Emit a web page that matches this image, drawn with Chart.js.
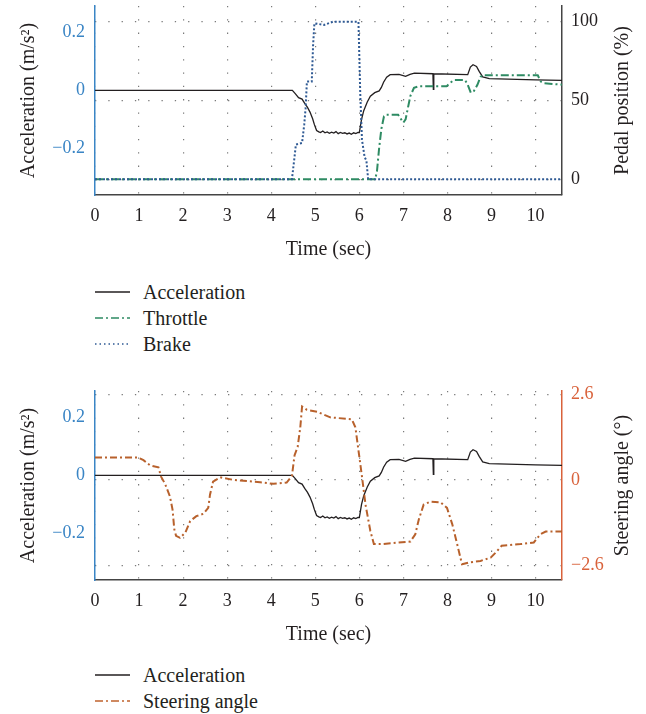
<!DOCTYPE html>
<html>
<head>
<meta charset="utf-8">
<script src="https://cdn.jsdelivr.net/npm/chart.js@4/dist/chart.umd.min.js"></script>
<style>
  body { margin: 0; background: #fff; width: 646px; height: 714px; position: relative; overflow: hidden;
         font-family: "Liberation Serif", serif; color: #231f20; }
  canvas { position: absolute; left: 0; }
  #top { top: 0; }
  #bottom { top: 385px; }
  .legend { position: absolute; left: 0; width: 646px; }
  .row { position: absolute; left: 0; height: 26px; width: 400px; }
  .row svg { position: absolute; left: 95px; top: 8px; }
  .row span { position: absolute; left: 143px; top: 0; font-size: 20px; line-height: 26px; }
</style>
</head>
<body>
<canvas id="top" width="646" height="262"></canvas>
<canvas id="bottom" width="646" height="262"></canvas>

<div class="legend" style="top:279px">
  <div class="row" style="top:0"><svg width="36" height="10"><line x1="0" y1="5" x2="35" y2="5" stroke="#231f20" stroke-width="1.3"/></svg><span>Acceleration</span></div>
  <div class="row" style="top:26px"><svg width="36" height="10"><line x1="0" y1="5" x2="35" y2="5" stroke="#2e8b63" stroke-width="1.3" stroke-dasharray="8 3 2 3"/></svg><span>Throttle</span></div>
  <div class="row" style="top:52px"><svg width="36" height="10"><line x1="0" y1="5" x2="35" y2="5" stroke="#2f5a94" stroke-width="1.3" stroke-dasharray="1.5 3"/></svg><span>Brake</span></div>
</div>
<div class="legend" style="top:662px">
  <div class="row" style="top:0"><svg width="36" height="10"><line x1="0" y1="5" x2="35" y2="5" stroke="#231f20" stroke-width="1.3"/></svg><span>Acceleration</span></div>
  <div class="row" style="top:26px"><svg width="36" height="10"><line x1="0" y1="5" x2="35" y2="5" stroke="#c0632e" stroke-width="1.3" stroke-dasharray="8 3 2 3"/></svg><span>Steering angle</span></div>
</div>

<script>
// --- data ---
const accelT = [0, 4.48, 4.55, 4.62, 4.70, 4.76, 4.82, 4.88, 4.94, 4.98, 5.03, 5.08,
  5.12, 5.17, 5.22, 5.27, 5.32, 5.37, 5.42, 5.47, 5.52, 5.57, 5.62, 5.67, 5.72, 5.77, 5.82, 5.87, 5.92, 5.97,
  6.00, 6.05, 6.10, 6.18, 6.25, 6.35, 6.45, 6.50, 6.55, 6.62, 6.70, 6.90, 7.05, 7.15, 7.25,
  7.67, 7.68, 7.69, 8.46, 8.52, 8.58, 8.66, 8.72, 8.80, 8.95, 10.0, 10.6];
const accelV = [0, 0, -0.012, -0.025, -0.030, -0.045, -0.058, -0.075, -0.098, -0.118, -0.138, -0.143,
  -0.145, -0.140, -0.146, -0.143, -0.148, -0.144, -0.147, -0.142, -0.149, -0.145, -0.148, -0.146, -0.150, -0.147, -0.151, -0.146, -0.149, -0.145,
  -0.145, -0.100, -0.070, -0.040, -0.020, -0.008, -0.002, 0.010, 0.028, 0.045, 0.054, 0.055, 0.048, 0.055, 0.059,
  0.057, 0.003, 0.057, 0.054, 0.080, 0.088, 0.082, 0.065, 0.046, 0.040, 0.036, 0.034];

const throttleT = [0, 6.36, 6.40, 6.45, 6.50, 6.56, 6.62, 6.88, 6.95, 7.00, 7.05, 7.10, 7.16, 7.24, 7.35,
  7.98, 8.05, 8.15, 8.40, 8.46, 8.53, 8.60, 8.68, 8.75, 8.80, 10.05, 10.12, 10.20, 10.6];
const throttleV = [0, 0, 5, 20, 32, 40, 41, 41, 38, 36, 38, 45, 53, 58, 59,
  59, 61, 63, 63, 60, 55, 56, 60, 65, 66, 66, 62, 61, 60];

const brakeT = [0, 4.47, 4.52, 4.56, 4.70, 4.75, 4.78, 4.81, 4.92, 4.95, 4.98, 5.20, 5.40, 5.60, 5.98,
  6.02, 6.06, 6.12, 6.16, 6.20, 10.6];
const brakeV = [0, 0, 12, 22, 23, 35, 45, 62, 62, 85, 99, 98, 100, 100, 100,
  55, 25, 14, 12, 0, 0];

const steerT = [0, 0.98, 1.10, 1.25, 1.44, 1.50, 1.59, 1.70, 1.76, 1.80, 1.84, 1.93, 2.05, 2.16, 2.30, 2.46,
  2.57, 2.61, 2.68, 2.84, 3.14, 3.75, 4.05, 4.35, 4.47, 4.53, 4.60, 4.66, 4.70, 4.81, 5.04, 5.34, 5.83,
  5.91, 5.98, 6.06, 6.14, 6.25, 6.33, 6.50, 7.16, 7.27, 7.35, 7.46, 7.61, 7.84, 7.99, 8.11, 8.22, 8.33,
  8.48, 8.75, 8.98, 9.10, 9.23, 9.66, 9.96, 10.11, 10.23, 10.6];
const steerV = [0.68, 0.68, 0.60, 0.44, 0.38, 0.10, -0.12, -0.50, -0.90, -1.50, -1.70, -1.76, -1.60, -1.25, -1.10, -1.03,
  -0.85, -0.45, -0.05, 0.08, 0, -0.07, -0.12, -0.08, 0.12, 0.75, 1.00, 1.60, 2.23, 2.13, 2.07, 1.90, 1.84,
  1.60, 0.90, 0.10, -0.75, -1.55, -1.95, -1.95, -1.87, -1.65, -1.20, -0.75, -0.66, -0.68, -0.85, -1.35, -1.95, -2.56,
  -2.51, -2.46, -2.36, -2.20, -2.00, -1.95, -1.90, -1.65, -1.57, -1.57];

const timeTicks = [0, 1, 2, 3, 4, 5, 6, 7, 8, 9, 10];
const accelTicks = [-0.2, 0, 0.2];
const pedalTicks = [0, 50, 100];
const steerTicks = [-2.6, 0, 2.6];

const TEXT = '#231f20';
const BLUE = '#3a85c5';
const ORANGE = '#d9623b';
const GRID = '#7a7a7a';

Chart.defaults.font.family = '"Liberation Serif", "Times New Roman", serif';
Chart.defaults.color = TEXT;

const pts = (t, v) => t.map((x, i) => ({ x, y: v[i] }));
const minus = v => String(v).replace('-', '\u2212');

// right-hand axis titles read bottom-to-top in the figure
const sideTitle = {
  id: 'sideTitle',
  afterDraw(chart, args, opts) {
    const { ctx, chartArea } = chart;
    ctx.save();
    ctx.translate(opts.x, (chartArea.top + chartArea.bottom) / 2);
    ctx.rotate(-Math.PI / 2);
    ctx.font = '20px "Liberation Serif", serif';
    ctx.fillStyle = TEXT;
    ctx.textAlign = 'center';
    ctx.textBaseline = 'middle';
    ctx.fillText(opts.text, 0, 0);
    ctx.restore();
  }
};

// fixed axis boxes so the plot area lands where the figure has it
const fixBox = (w, h) => s => {
  if (w) s.width = w;
  if (h) s.height = h;
  s.paddingTop = 0; s.paddingBottom = 0; s.paddingLeft = 0; s.paddingRight = 0;
};

function line(label, data, color, dash, width, axis) {
  return {
    label, data, borderColor: color, borderWidth: width, borderDash: dash,
    pointRadius: 0, tension: 0, fill: false, yAxisID: axis
  };
}

function makeOptions(rightTicks, rightMin, rightMax, rightColor, rightTitle) {
  return {
    responsive: false,
    animation: false,
    layout: { padding: { top: 6, left: 0, right: 0, bottom: 0 } },
    plugins: { legend: { display: false }, tooltip: { enabled: false }, sideTitle: { x: 623, text: rightTitle } },
    scales: {
      x: {
        type: 'linear', min: 0, max: 10.6,
        afterFit: fixBox(0, 67),
        afterBuildTicks: s => { s.ticks = timeTicks.map(v => ({ value: v })); },
        ticks: { padding: 10, font: { size: 18 }, color: TEXT, maxRotation: 0 },
        grid: { color: GRID, lineWidth: 1.2, drawTicks: false },
        border: { color: '#444', width: 1.5, dash: [1.3, 12] },
        title: { display: true, text: 'Time (sec)', font: { size: 20 }, color: TEXT, padding: { top: 0, bottom: 0 } }
      },
      y: {
        position: 'left', min: -0.36, max: 0.29,
        afterFit: fixBox(95, 0),
        afterBuildTicks: s => { s.ticks = accelTicks.map(v => ({ value: v })); },
        ticks: { padding: 10, font: { size: 18 }, color: BLUE, callback: v => minus(v) },
        grid: { display: false, drawTicks: false },
        border: { color: BLUE, width: 1.5 },
        title: { display: true, text: 'Acceleration (m/s\u00b2)', font: { size: 20 }, color: TEXT, padding: { top: 17, bottom: 0 } }
      },
      y2: {
        position: 'right', min: rightMin, max: rightMax,
        afterFit: fixBox(84, 0),
        afterBuildTicks: s => { s.ticks = rightTicks.map(v => ({ value: v })); },
        ticks: { padding: 9, font: { size: 18 }, color: rightColor, callback: v => minus(v) },
        grid: { color: GRID, lineWidth: 1.2, drawTicks: false },
        border: { color: rightColor === TEXT ? '#444' : rightColor, width: 1.5, dash: [1.3, 12] }
      }
    }
  };
}

new Chart(document.getElementById('top'), {
  type: 'line',
  data: {
    datasets: [
      line('Brake', pts(brakeT, brakeV), '#2f5a94', [2, 2], 2, 'y2'),
      line('Throttle', pts(throttleT, throttleV), '#2e8b63', [8, 3, 2, 3], 2, 'y2'),
      line('Acceleration', pts(accelT, accelV), TEXT, [], 1.3, 'y')
    ]
  },
  options: makeOptions(pedalTicks, -10, 110, TEXT, 'Pedal position (%)'),
  plugins: [sideTitle]
});

new Chart(document.getElementById('bottom'), {
  type: 'line',
  data: {
    datasets: [
      line('Steering angle', pts(steerT, steerV), '#b8612c', [7, 3, 2, 3], 2, 'y2'),
      line('Acceleration', pts(accelT, accelV), TEXT, [], 1.3, 'y')
    ]
  },
  options: makeOptions(steerTicks, -3.04, 2.7, ORANGE, 'Steering angle (\u00b0)'),
  plugins: [sideTitle]
});
</script>
</body>
</html>
